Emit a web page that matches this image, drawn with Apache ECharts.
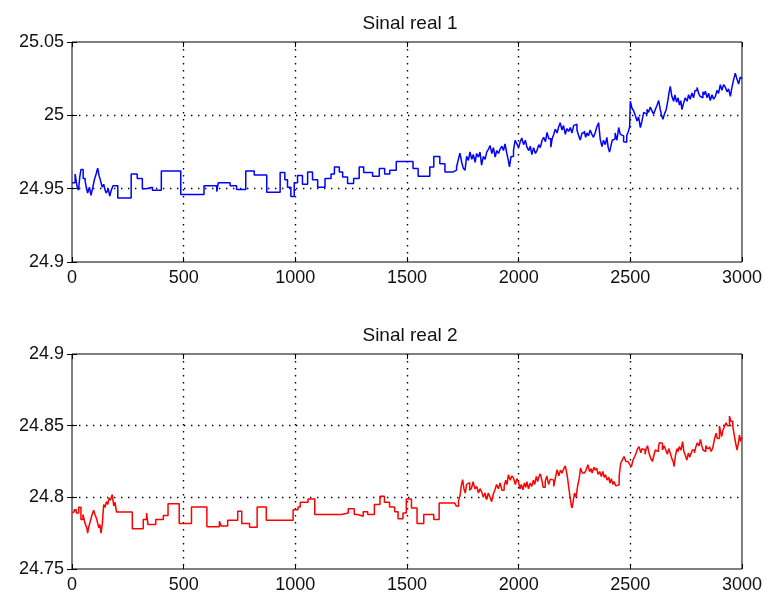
<!DOCTYPE html>
<html>
<head>
<meta charset="utf-8">
<title>Sinal real</title>
<script src="https://cdn.jsdelivr.net/npm/echarts@6/dist/echarts.min.js"></script>
<style>
  html, body { margin: 0; padding: 0; background: #fff; }
  #chart { width: 765px; height: 606px; }
</style>
</head>
<body>
<div id="chart"></div>
<script>
// axis ranges
const xTicks = [0, 500, 1000, 1500, 2000, 2500, 3000]
const yRange1 = [24.9, 25.05]
const yRange2 = [24.75, 24.9]

// Sinal real 1 (blue)
const sig1X = [
  0, 14, 22, 29, 35, 40, 50, 59, 65, 70, 78, 85, 92, 100, 108, 115, 121, 127, 135, 142,
  148, 154, 162, 169, 176, 184, 205, 265, 292, 315, 333, 360, 400, 487, 591, 648, 655, 708, 737, 778,
  816, 872, 932, 953, 965, 980, 995, 1010, 1032, 1055, 1077, 1100, 1133, 1160, 1175, 1197, 1212, 1234, 1261, 1286,
  1306, 1346, 1376, 1400, 1423, 1452, 1527, 1550, 1602, 1620, 1647, 1670, 1707, 1722,
  1730, 1737, 1745, 1752, 1760, 1767, 1775, 1782, 1790, 1797, 1805, 1812, 1820, 1827, 1834, 1842, 1850, 1857, 1865, 1872,
  1880, 1887, 1895, 1902, 1910, 1917, 1925, 1932, 1939, 1947, 1953, 1959, 1966, 1977, 1984, 1992, 2000, 2007, 2014, 2022,
  2030, 2037, 2045, 2052, 2059, 2067, 2075, 2082, 2090, 2097, 2105, 2112, 2120, 2127, 2135, 2144, 2150, 2157, 2164, 2172,
  2179, 2186, 2194, 2201, 2209, 2216, 2224, 2231, 2239, 2246, 2254, 2261, 2269, 2276, 2284, 2294, 2300, 2306, 2313, 2320,
  2328, 2335, 2343, 2350, 2358, 2365, 2373, 2380, 2388, 2395, 2401, 2407, 2413, 2419, 2425, 2432, 2440, 2448, 2455, 2462,
  2470, 2477, 2484, 2492, 2497, 2500, 2507, 2515, 2522, 2530, 2537, 2545, 2552, 2560, 2567, 2575, 2582, 2589, 2597, 2604,
  2612, 2620, 2627, 2634, 2640, 2646, 2653, 2661, 2668, 2674, 2679, 2686, 2694, 2700, 2707, 2714, 2720, 2726, 2731, 2738,
  2746, 2754, 2761, 2768, 2776, 2783, 2790, 2799, 2806, 2812, 2817, 2825, 2830, 2836, 2844, 2851, 2858, 2866, 2873, 2881,
  2888, 2895, 2903, 2910, 2918, 2926, 2933, 2940, 2948, 2955, 2962, 2970, 2977, 2985, 2992, 3000
]
const sig1Y = [
  24.954, 24.960, 24.952, 24.949, 24.958, 24.963, 24.957, 24.955, 24.950, 24.947, 24.951, 24.9455, 24.950, 24.956, 24.960, 24.964, 24.959, 24.956, 24.951, 24.953,
  24.949, 24.947, 24.950, 24.945, 24.949, 24.952, 24.9437, 24.960, 24.957, 24.950, 24.951, 24.949, 24.962, 24.946, 24.952, 24.948, 24.954, 24.952, 24.9495, 24.962,
  24.9594, 24.9475, 24.961, 24.956, 24.951, 24.9446, 24.954, 24.959, 24.953, 24.9614, 24.956, 24.951, 24.957, 24.960, 24.9648, 24.9614, 24.958, 24.9536, 24.957, 24.9648,
  24.961, 24.9585, 24.9637, 24.960, 24.9626, 24.9686, 24.9637, 24.9585, 24.9648, 24.972, 24.967, 24.9614, 24.9626, 24.9648,
  24.970, 24.9742, 24.968, 24.964, 24.9626, 24.972, 24.9693, 24.975, 24.970, 24.9733, 24.968, 24.974, 24.9715, 24.975, 24.966, 24.972, 24.970, 24.9749, 24.977, 24.9794,
  24.974, 24.978, 24.9715, 24.976, 24.974, 24.977, 24.979, 24.976, 24.9805, 24.974, 24.970, 24.9648, 24.972, 24.976, 24.983, 24.9805, 24.978, 24.982, 24.9845, 24.980,
  24.983, 24.9783, 24.976, 24.979, 24.9733, 24.978, 24.974, 24.976, 24.980, 24.978, 24.983, 24.985, 24.982, 24.9883, 24.984, 24.9783, 24.984, 24.987, 24.9906, 24.988,
  24.992, 24.995, 24.990, 24.993, 24.987, 24.991, 24.989, 24.9917, 24.988, 24.993, 24.994, 24.990, 24.986, 24.9832, 24.988, 24.9894, 24.985, 24.988, 24.986, 24.990,
  24.987, 24.985, 24.9883, 24.992, 24.995, 24.984, 24.9787, 24.983, 24.980, 24.985, 24.978, 24.9749, 24.979, 24.983, 24.984, 24.988, 24.983, 24.9917, 24.987, 24.986,
  24.982, 24.9816, 24.986, 24.9894, 24.992, 25.0096, 25.005, 25.003, 25.000, 24.9962, 24.999, 24.9917, 24.996, 25.002, 25.0007, 25.004, 25.002, 25.0056, 25.003, 25.0007,
  25.004, 25.007, 25.0101, 25.004, 25.000, 24.9973, 25.001, 25.004, 25.010, 25.016, 25.0197, 25.013, 25.0096, 25.014, 25.009, 25.0119, 25.007, 25.010, 25.004, 25.008,
  25.012, 25.0096, 25.014, 25.011, 25.0152, 25.012, 25.017, 25.019, 25.015, 25.013, 25.0119, 25.016, 25.014, 25.0164, 25.012, 25.015, 25.0101, 25.014, 25.011, 25.013,
  25.017, 25.015, 25.0209, 25.017, 25.021, 25.019, 25.016, 25.018, 25.013, 25.019, 25.024, 25.0287, 25.025, 25.0213, 25.026, 25.025
]

// Sinal real 2 (red)
const sig2X = [
  0, 4, 10, 19, 30, 40, 49, 55, 60, 66, 70, 76, 82, 90, 97, 103, 109, 115, 120, 125,
  130, 136, 142, 148, 154, 160, 166, 172, 180, 187, 193, 199, 270, 319, 334, 340, 375, 409, 430, 480,
  535, 604, 660, 668, 697, 742, 760, 795, 829, 870, 990, 1012, 1022, 1057, 1087, 1207, 1237, 1264, 1279, 1304,
  1324, 1354, 1379, 1399, 1422, 1445, 1460, 1482, 1497, 1520, 1545, 1575, 1620, 1644, 1714,
  1720, 1725, 1731, 1737, 1743, 1749, 1755, 1761, 1767, 1774, 1781, 1789, 1796, 1804, 1812, 1820, 1827, 1834, 1842, 1849,
  1857, 1864, 1872, 1879, 1886, 1894, 1901, 1909, 1917, 1925, 1935, 1942, 1948, 1954, 1962, 1970, 1977, 1985, 1992, 1999,
  2006, 2012, 2019, 2026, 2032, 2037, 2044, 2052, 2059, 2066, 2072, 2079, 2085, 2092, 2097, 2104, 2110, 2119, 2126, 2134,
  2142, 2150, 2157, 2165, 2172, 2180, 2187, 2194, 2202, 2209, 2214, 2219, 2225, 2232, 2236, 2239, 2244, 2250, 2257, 2265,
  2271, 2277, 2285, 2295, 2302, 2310, 2318, 2325, 2329, 2337, 2343, 2349, 2356, 2363, 2370, 2377, 2383, 2389, 2396, 2403,
  2409, 2415, 2422, 2427, 2435, 2442, 2450, 2457, 2464, 2472, 2480, 2490, 2497, 2505, 2512, 2520, 2526, 2533, 2539, 2547,
  2552, 2559, 2566, 2571, 2577, 2585, 2592, 2599, 2605, 2612, 2619, 2626, 2630, 2637, 2644, 2651, 2659, 2666, 2672, 2679,
  2686, 2692, 2696, 2702, 2709, 2714, 2719, 2727, 2734, 2740, 2747, 2753, 2760, 2766, 2771, 2778, 2787, 2794, 2800, 2808,
  2814, 2820, 2826, 2831, 2838, 2845, 2854, 2862, 2869, 2876, 2884, 2890, 2899, 2904, 2909, 2915, 2921, 2928, 2935, 2944,
  2950, 2959, 2965, 2969, 2974, 2978, 2984, 2989, 2994, 3000
]
const sig2Y = [
  24.789, 24.790, 24.7914, 24.789, 24.793, 24.7845, 24.788, 24.784, 24.781, 24.779, 24.775, 24.780, 24.7833, 24.788, 24.791, 24.788, 24.7856, 24.782, 24.7787, 24.781,
  24.775, 24.782, 24.795, 24.793, 24.797, 24.795, 24.7995, 24.798, 24.8019, 24.794, 24.7965, 24.7898, 24.778, 24.7845, 24.789, 24.781, 24.7845, 24.7873, 24.7956, 24.7817,
  24.7933, 24.7794, 24.7833, 24.780, 24.784, 24.7903, 24.7817, 24.7792, 24.7933, 24.784, 24.7914, 24.7933, 24.7965, 24.7988, 24.788, 24.789, 24.792, 24.788, 24.7868, 24.790,
  24.788, 24.795, 24.8007, 24.7965, 24.7933, 24.790, 24.785, 24.789, 24.7988, 24.7926, 24.7817, 24.788, 24.7845, 24.796, 24.7965,
  24.794, 24.7938, 24.798, 24.8007, 24.808, 24.8123, 24.806, 24.803, 24.809, 24.8102, 24.805, 24.8065, 24.811, 24.806, 24.8076, 24.803, 24.806, 24.804, 24.800, 24.803,
  24.7984, 24.803, 24.800, 24.797, 24.802, 24.8053, 24.809, 24.806, 24.810, 24.805, 24.8076, 24.812, 24.809, 24.8157, 24.812, 24.815, 24.8134, 24.809, 24.813, 24.811,
  24.806, 24.809, 24.8053, 24.810, 24.807, 24.811, 24.806, 24.810, 24.8076, 24.812, 24.809, 24.8146, 24.811, 24.815, 24.8164, 24.812, 24.807, 24.811, 24.815, 24.809,
  24.8127, 24.812, 24.8076, 24.814, 24.8192, 24.815, 24.819, 24.8169, 24.820, 24.822, 24.818, 24.8134, 24.806, 24.7984, 24.794, 24.7926, 24.797, 24.803, 24.800, 24.8088,
  24.813, 24.8204, 24.817, 24.8157, 24.819, 24.8227, 24.818, 24.820, 24.8169, 24.821, 24.819, 24.8204, 24.816, 24.818, 24.8146, 24.818, 24.814, 24.8157, 24.812, 24.814,
  24.810, 24.813, 24.809, 24.811, 24.808, 24.8088, 24.815, 24.8238, 24.826, 24.8285, 24.825, 24.826, 24.823, 24.8215, 24.826, 24.8285, 24.831, 24.834, 24.8354, 24.831,
  24.834, 24.833, 24.830, 24.834, 24.836, 24.830, 24.827, 24.825, 24.829, 24.833, 24.832, 24.835, 24.838, 24.8377, 24.833, 24.836, 24.833, 24.830, 24.834, 24.8308,
  24.827, 24.825, 24.8215, 24.829, 24.834, 24.832, 24.8354, 24.833, 24.8389, 24.832, 24.829, 24.826, 24.831, 24.828, 24.8303, 24.833, 24.831, 24.8354, 24.838, 24.836,
  24.8405, 24.836, 24.833, 24.832, 24.836, 24.834, 24.8354, 24.832, 24.8343, 24.840, 24.8447, 24.841, 24.8498, 24.846, 24.8424, 24.847, 24.8491, 24.852, 24.850, 24.8567,
  24.853, 24.8491, 24.844, 24.840, 24.836, 24.833, 24.838, 24.8435, 24.839, 24.842
]

const FONT = 'Liberation Sans'
const dotted = { color: '#000', width: 1.4, type: [1.4, 5.6] }
const tickStyle = { inside: true, length: 5, lineStyle: { color: '#000' } }

function pairs(xs, ys) {
  return xs.map((x, i) => [x, ys[i]])
}
function yLabel(v) {
  return String(+v.toFixed(2))
}

function xAxes(gridIndex) {
  const min = xTicks[0], max = xTicks[xTicks.length - 1]
  return [{
    type: 'value', gridIndex, min, max, interval: 500,
    axisLine: { show: false },
    axisTick: tickStyle,
    axisLabel: { color: '#111', fontSize: 18, fontFamily: FONT, margin: 7, formatter: v => String(v) },
    splitLine: { show: true, showMinLine: false, showMaxLine: false, lineStyle: dotted }
  }, {
    type: 'value', gridIndex, position: 'top', min, max, interval: 500,
    axisLine: { show: false },
    axisTick: tickStyle,
    axisLabel: { show: false },
    splitLine: { show: false }
  }]
}
function yAxes(gridIndex, range) {
  return [{
    type: 'value', gridIndex, min: range[0], max: range[1], interval: 0.05,
    axisLine: { show: false },
    axisTick: tickStyle,
    axisLabel: { color: '#111', fontSize: 18, fontFamily: FONT, margin: 8, formatter: yLabel },
    splitLine: { show: true, showMinLine: false, showMaxLine: false, lineStyle: dotted }
  }, {
    type: 'value', gridIndex, position: 'right', min: range[0], max: range[1], interval: 0.05,
    axisLine: { show: false },
    axisTick: tickStyle,
    axisLabel: { show: false },
    splitLine: { show: false }
  }]
}

const chart = echarts.init(document.getElementById('chart'))
chart.setOption({
  animation: false,
  backgroundColor: '#fff',
  title: [
    { text: 'Sinal real 1', left: 405, top: 9, textAlign: 'center',
      textStyle: { fontSize: 19, fontWeight: 'normal', color: '#111', fontFamily: FONT } },
    { text: 'Sinal real 2', left: 405, top: 321, textAlign: 'center',
      textStyle: { fontSize: 19, fontWeight: 'normal', color: '#111', fontFamily: FONT } }
  ],
  grid: [
    { left: 72, top: 42, width: 671, height: 220, show: true, borderColor: '#000', borderWidth: 1 },
    { left: 72, top: 354, width: 671, height: 215, show: true, borderColor: '#000', borderWidth: 1 }
  ],
  xAxis: [...xAxes(0), ...xAxes(1)],
  yAxis: [...yAxes(0, yRange1), ...yAxes(1, yRange2)],
  series: [{
    name: 'Sinal real 1', type: 'line', xAxisIndex: 0, yAxisIndex: 0,
    data: pairs(sig1X, sig1Y), step: 'end', showSymbol: false,
    lineStyle: { color: '#0000ff', width: 1.5 }
  }, {
    name: 'Sinal real 2', type: 'line', xAxisIndex: 2, yAxisIndex: 2,
    data: pairs(sig2X, sig2Y), step: 'end', showSymbol: false,
    lineStyle: { color: '#ff0000', width: 1.5 }
  }]
})
</script>
</body>
</html>
